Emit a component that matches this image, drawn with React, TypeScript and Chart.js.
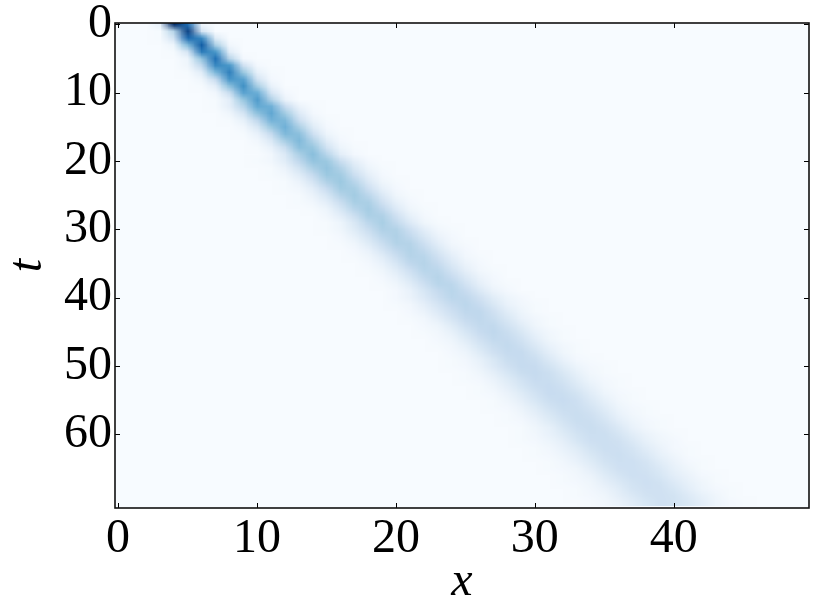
import React, { useEffect, useRef } from "react";
import { Chart, registerables } from "chart.js";

Chart.register(...registerables);

// ---- data ----
const xTicks = [0, 10, 20, 30, 40];
const tTicks = [0, 10, 20, 30, 40, 50, 60];
const nCols = 50;
const xRange = [-0.22, 49.74];
const tRange = [-0.2, 70.8];

// first column of each row's non-zero run (row index = t)
const rowStart = [
  3, 3, 3, 4, 4, 5, 5, 5, 6, 6, 7, 7,
  7, 8, 8, 9, 9, 10, 10, 11,
  10, 11, 11, 12, 12, 13, 13, 14, 15, 15,
  15, 16, 16, 17, 17, 18, 18, 19, 19, 20,
  20, 20, 21, 21, 22, 22, 23, 23, 24, 24,
  24, 25, 25, 26, 26, 27, 27, 28, 28, 29,
  29, 29, 30, 30, 31, 31, 32, 32, 33, 33, 34,
];

// intensity (percent) along each row, starting at rowStart
const rowValues = [
  [8, 100, 76, 4],
  [1, 31, 94, 18],
  [1, 19, 78, 66, 12],
  [5, 45, 83, 33, 3],
  [1, 17, 71, 60, 11],
  [5, 40, 75, 30, 2],
  [4, 27, 66, 60, 20, 2],
  [1, 11, 46, 69, 38, 8, 1],
  [4, 25, 61, 55, 18, 2],
  [1, 10, 42, 63, 34, 7],
  [3, 23, 55, 50, 17, 2],
  [1, 10, 39, 58, 32, 6],
  [1, 9, 29, 52, 49, 24, 6, 1],
  [4, 17, 41, 53, 36, 13, 2],
  [1, 8, 27, 48, 45, 22, 6, 1],
  [3, 15, 38, 49, 33, 12, 2],
  [1, 7, 25, 45, 42, 21, 5, 1],
  [3, 14, 35, 45, 31, 11, 2],
  [1, 7, 23, 42, 39, 19, 5, 1],
  [3, 14, 33, 43, 29, 10, 2],
  [1, 3, 11, 27, 40, 38, 23, 9, 2],
  [1, 6, 18, 33, 40, 31, 15, 5, 1],
  [1, 3, 11, 25, 38, 36, 22, 9, 2],
  [1, 6, 17, 32, 38, 29, 14, 4, 1],
  [1, 3, 10, 24, 36, 34, 21, 8, 2],
  [1, 6, 16, 30, 36, 28, 14, 4, 1],
  [1, 3, 10, 23, 34, 33, 20, 8, 2],
  [1, 5, 16, 29, 35, 27, 13, 4, 1],
  [3, 10, 22, 33, 32, 20, 8, 2],
  [1, 5, 15, 28, 34, 26, 13, 4, 1],
  [1, 4, 12, 23, 32, 31, 21, 10, 3, 1],
  [2, 8, 17, 28, 32, 26, 15, 6, 2],
  [1, 4, 12, 23, 31, 30, 21, 10, 3, 1],
  [2, 7, 17, 27, 31, 26, 15, 6, 2],
  [1, 4, 11, 22, 30, 29, 20, 10, 3, 1],
  [2, 7, 16, 27, 30, 25, 14, 6, 2],
  [1, 4, 11, 21, 29, 28, 19, 9, 3, 1],
  [2, 7, 16, 26, 30, 24, 14, 6, 2],
  [1, 4, 11, 21, 29, 28, 19, 9, 3, 1],
  [2, 7, 16, 25, 29, 24, 14, 6, 2],
  [2, 6, 13, 22, 28, 27, 20, 11, 5, 2],
  [1, 3, 9, 17, 25, 28, 24, 15, 7, 3, 1],
  [2, 6, 13, 21, 27, 27, 20, 11, 5, 1],
  [1, 3, 9, 17, 25, 27, 23, 15, 7, 3, 1],
  [2, 5, 12, 21, 26, 26, 19, 11, 4, 1],
  [1, 3, 8, 16, 24, 27, 23, 15, 7, 3, 1],
  [2, 5, 12, 20, 26, 25, 19, 10, 4, 1],
  [1, 3, 8, 16, 23, 26, 22, 14, 7, 3, 1],
  [2, 5, 12, 20, 25, 25, 18, 10, 4, 1],
  [1, 3, 8, 15, 23, 25, 22, 14, 7, 2, 1],
  [1, 2, 6, 13, 20, 25, 24, 18, 11, 5, 2, 1],
  [1, 4, 9, 16, 23, 25, 22, 15, 8, 3, 1],
  [1, 2, 6, 12, 19, 24, 23, 18, 11, 5, 2, 1],
  [1, 4, 9, 16, 22, 24, 21, 14, 8, 3, 1],
  [1, 2, 6, 12, 19, 24, 23, 18, 11, 5, 2, 1],
  [1, 4, 9, 16, 22, 24, 21, 14, 8, 3, 1],
  [1, 2, 6, 12, 19, 23, 22, 17, 11, 5, 2, 1],
  [1, 4, 9, 15, 21, 23, 20, 14, 7, 3, 1],
  [1, 2, 6, 12, 18, 23, 22, 17, 10, 5, 2, 1],
  [1, 4, 8, 15, 21, 23, 20, 14, 7, 3, 1],
  [1, 3, 7, 12, 18, 22, 22, 17, 11, 6, 3, 1],
  [1, 2, 5, 9, 16, 21, 22, 20, 14, 8, 4, 2],
  [1, 3, 7, 12, 18, 22, 21, 17, 11, 6, 2, 1],
  [1, 2, 5, 9, 15, 20, 22, 19, 14, 8, 4, 1],
  [1, 3, 7, 12, 18, 21, 21, 17, 11, 6, 2, 1],
  [1, 2, 4, 9, 15, 20, 21, 19, 14, 8, 4, 1],
  [1, 3, 6, 12, 17, 21, 20, 16, 10, 6, 2, 1],
  [1, 2, 4, 9, 14, 19, 21, 19, 13, 8, 4, 1],
  [1, 3, 6, 11, 17, 20, 20, 16, 10, 5, 2, 1],
  [1, 2, 4, 9, 14, 19, 20, 18, 13, 8, 4, 1],
  [1, 3, 6, 11, 16, 20, 19, 15, 10, 5, 2, 1],
];

// matplotlib "Blues" colormap stops
const bluesStops = [
  [247, 251, 255], [222, 235, 247], [198, 219, 239], [158, 202, 225],
  [107, 174, 214], [66, 146, 198], [33, 113, 181], [8, 81, 156], [8, 48, 107],
];

const FONT = "'Liberation Serif', 'Times New Roman', serif";

function blues(v: number): number[] {
  const t = Math.max(0, Math.min(1, v)) * (bluesStops.length - 1);
  const i = Math.min(bluesStops.length - 2, Math.floor(t));
  const f = t - i;
  const a = bluesStops[i], b = bluesStops[i + 1];
  return [0, 1, 2].map((k) => Math.round(a[k] + (b[k] - a[k]) * f));
}

const heatmapPlugin = {
  id: "heatmap",
  beforeDatasetsDraw(chart: any) {
    const { ctx, chartArea: a, scales } = chart;
    const xs = scales.x, ys = scales.y;
    const nRows = rowValues.length;
    let vmax = 0;
    rowValues.forEach((r) => r.forEach((v) => { if (v > vmax) vmax = v; }));
    const off = document.createElement("canvas");
    off.width = nCols;
    off.height = nRows;
    const octx = off.getContext("2d")!;
    const img = octx.createImageData(nCols, nRows);
    for (let r = 0; r < nRows; r++) {
      for (let c = 0; c < nCols; c++) {
        const j = c - rowStart[r];
        const v = j >= 0 && j < rowValues[r].length ? rowValues[r][j] : 0;
        const col = blues(v / vmax);
        const p = (r * nCols + c) * 4;
        img.data[p] = col[0];
        img.data[p + 1] = col[1];
        img.data[p + 2] = col[2];
        img.data[p + 3] = 255;
      }
    }
    octx.putImageData(img, 0, 0);
    const x0 = xs.getPixelForValue(-0.5);
    const x1 = xs.getPixelForValue(nCols - 0.5);
    const y0 = ys.getPixelForValue(-0.5);
    const y1 = ys.getPixelForValue(nRows - 0.5);
    ctx.save();
    ctx.beginPath();
    ctx.rect(a.left, a.top, a.right - a.left, a.bottom - a.top);
    ctx.clip();
    const bg = blues(0);
    ctx.fillStyle = `rgb(${bg[0]},${bg[1]},${bg[2]})`;
    ctx.fillRect(a.left, a.top, a.right - a.left, a.bottom - a.top);
    ctx.imageSmoothingEnabled = true;
    ctx.imageSmoothingQuality = "low";
    ctx.drawImage(off, x0, Math.min(y0, y1), x1 - x0, Math.abs(y1 - y0));
    ctx.restore();
  },
  afterDatasetsDraw(chart: any) {
    const { ctx, chartArea: a, scales } = chart;
    const xs = scales.x, ys = scales.y;
    const tl = 5;
    ctx.save();
    ctx.strokeStyle = "#000";
    ctx.lineWidth = 1;
    ctx.beginPath();
    xTicks.forEach((v) => {
      const px = Math.round(xs.getPixelForValue(v)) + 0.5;
      ctx.moveTo(px, a.bottom);
      ctx.lineTo(px, a.bottom - tl);
      ctx.moveTo(px, a.top);
      ctx.lineTo(px, a.top + tl);
    });
    tTicks.forEach((v) => {
      const py = Math.round(ys.getPixelForValue(v)) + 0.5;
      ctx.moveTo(a.left, py);
      ctx.lineTo(a.left + tl, py);
      ctx.moveTo(a.right, py);
      ctx.lineTo(a.right - tl, py);
    });
    ctx.stroke();
    ctx.lineWidth = 1.6;
    ctx.strokeStyle = "#111";
    ctx.strokeRect(a.left, a.top, a.right - a.left, a.bottom - a.top);
    ctx.restore();
  },
};

export default function App() {
  const ref = useRef<HTMLCanvasElement>(null);
  useEffect(() => {
    if (!ref.current) return;
    const chart = new Chart(ref.current, {
      type: "scatter",
      data: { datasets: [{ data: [] }] },
      plugins: [heatmapPlugin],
      options: {
        animation: false,
        responsive: false,
        devicePixelRatio: 1,
        layout: { padding: { top: 23, right: 22, left: 0, bottom: 0 } },
        plugins: { legend: { display: false }, tooltip: { enabled: false } },
        scales: {
          x: {
            type: "linear",
            position: "bottom",
            min: xRange[0],
            max: xRange[1],
            afterBuildTicks: (s: any) => { s.ticks = xTicks.map((v) => ({ value: v })); },
            afterFit: (s: any) => { s.height = 105; s.paddingLeft = 0; s.paddingRight = 0; },
            grid: { display: false, drawTicks: false },
            border: { display: false },
            ticks: {
              font: { family: FONT, size: 48 },
              color: "#000",
              padding: 3,
              maxRotation: 0,
              autoSkip: false,
              callback: (v: any) => String(v),
            },
            title: {
              display: true,
              text: "x",
              color: "#000",
              font: { family: FONT, size: 48, style: "italic", lineHeight: 1 },
              padding: { top: 0, bottom: 7 },
            },
          },
          y: {
            type: "linear",
            reverse: true,
            min: tRange[0],
            max: tRange[1],
            afterBuildTicks: (s: any) => { s.ticks = tTicks.map((v) => ({ value: v })); },
            afterFit: (s: any) => { s.width = 115; s.paddingTop = 0; s.paddingBottom = 0; },
            grid: { display: false, drawTicks: false },
            border: { display: false },
            ticks: {
              font: { family: FONT, size: 48 },
              color: "#000",
              padding: 3,
              autoSkip: false,
              callback: (v: any) => String(v),
            },
            title: {
              display: true,
              text: "t",
              color: "#000",
              font: { family: FONT, size: 48, style: "italic", lineHeight: 1 },
              padding: { top: 4, bottom: 0 },
            },
          },
        },
      },
    });
    return () => chart.destroy();
  }, []);
  return (
    <div style={{ position: "fixed", left: 0, top: 0, width: 831, height: 613, background: "#fff" }}>
      <canvas ref={ref} width={831} height={613} style={{ display: "block" }} />
    </div>
  );
}
